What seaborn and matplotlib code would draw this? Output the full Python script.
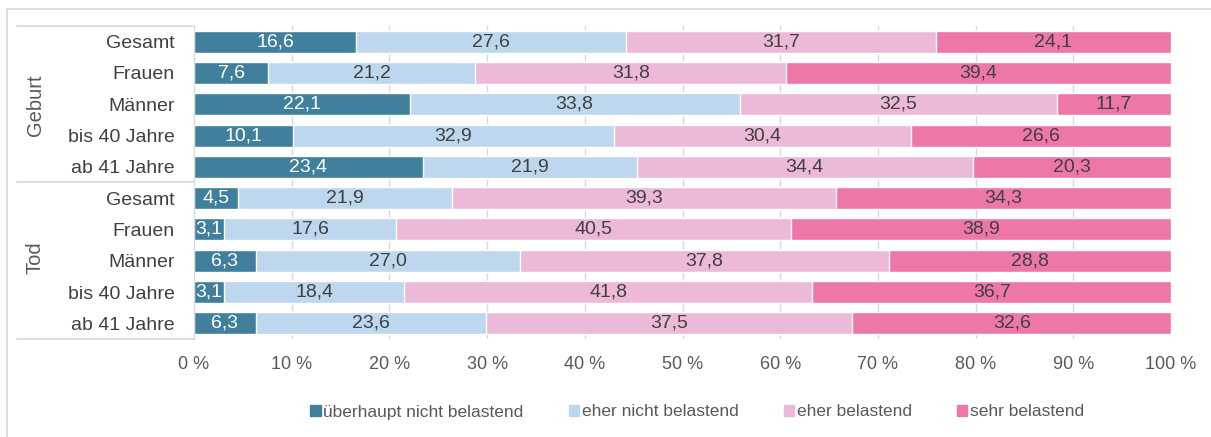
import pandas as pd
import matplotlib.pyplot as plt
import seaborn as sns
from matplotlib.patches import Patch
from matplotlib.lines import Line2D

# Data
groups = ["Geburt"] * 5 + ["Tod"] * 5
categories = ["Gesamt", "Frauen", "Männer", "bis 40 Jahre", "ab 41 Jahre"] * 2
series = ["überhaupt nicht belastend", "eher nicht belastend", "eher belastend", "sehr belastend"]
gar_nicht = [16.6, 7.6, 22.1, 10.1, 23.4, 4.5, 3.1, 6.3, 3.1, 6.3]
eher_nicht = [27.6, 21.2, 33.8, 32.9, 21.9, 21.9, 17.6, 27.0, 18.4, 23.6]
eher = [31.7, 31.8, 32.5, 30.4, 34.4, 39.3, 40.5, 37.8, 41.8, 37.5]
sehr = [24.1, 39.4, 11.7, 26.6, 20.3, 34.3, 38.9, 28.8, 36.7, 32.6]
ticks = [0, 10, 20, 30, 40, 50, 60, 70, 80, 90, 100]

colors = ["#41809C", "#BDD7EE", "#ECBAD8", "#EE77AA"]
text_colors = ["white", "#404040", "#404040", "#404040"]

df = pd.DataFrame({"group": groups, "cat": categories,
                   series[0]: gar_nicht, series[1]: eher_nicht,
                   series[2]: eher, series[3]: sehr})
df["row"] = df["group"] + "|" + df["cat"]
vals = df[series]
shares = vals.div(vals.sum(axis=1), axis=0) * 100
cum = shares.cumsum(axis=1)

sns.set_style("white")
plt.rcParams["font.family"] = ["Liberation Sans", "DejaVu Sans"]

fig = plt.figure(figsize=(12.11, 4.37), dpi=100)
ax = fig.add_axes([194 / 1211, 1 - 339 / 437, 977 / 1211, 313 / 437])

# draw cumulative bars back to front
for i in range(3, -1, -1):
    sns.barplot(x=cum[series[i]].values, y=df["row"], order=list(df["row"]),
                color=colors[i], orient="h", width=0.7, ax=ax,
                saturation=1, zorder=2)

# labels
for r in range(len(df)):
    for i, s in enumerate(series):
        left = cum[s].iloc[r] - shares[s].iloc[r]
        xc = left + shares[s].iloc[r] / 2
        ax.text(xc, r, f"{vals[s].iloc[r]:.1f}".replace(".", ","),
                ha="center", va="center", fontsize=14, color=text_colors[i], zorder=3)

ax.set_xlim(0, 100)
ax.set_ylim(9.5, -0.5)
ax.set_xticks(ticks)
ax.set_xticklabels([f"{t} %" for t in ticks])
ax.set_yticks(range(len(df)))
ax.set_yticklabels(categories)
ax.set_xlabel("")
ax.set_ylabel("")
ax.tick_params(axis="x", length=0, pad=12, labelsize=13, labelcolor="#595959")
ax.tick_params(axis="y", length=0, pad=14, labelsize=14, labelcolor="#404040")
ax.grid(axis="x", color="#D9D9D9", lw=1, zorder=0)
ax.set_axisbelow(True)
for side in ["top", "right", "bottom"]:
    ax.spines[side].set_visible(False)
ax.spines["left"].set_color("#D9D9D9")

# category box lines
tr = ax.get_yaxis_transform()
for yv in [-0.5, 4.5, 9.5]:
    ax.add_line(Line2D([-177 / 977, 0], [yv, yv], transform=tr, color="#D9D9D9",
                       lw=1.2, clip_on=False))

fig.text(35 / 1211, 1 - 105 / 437, "Geburt", rotation=90, ha="center", va="center",
         fontsize=14.5, color="#595959")
fig.text(35 / 1211, 1 - 258 / 437, "Tod", rotation=90, ha="center", va="center",
         fontsize=14.5, color="#595959")

# outer chart border
fig.add_artist(Line2D([7 / 1211, 7 / 1211], [0, 1 - 9 / 437], color="#D9D9D9", lw=1.2))
fig.add_artist(Line2D([7 / 1211, 1], [1 - 9 / 437, 1 - 9 / 437], color="#D9D9D9", lw=1.2))

handles = [Patch(color=c) for c in colors]
fig.legend(handles, series, loc="center", bbox_to_anchor=(697 / 1211, 1 - 412 / 437),
           ncol=4, frameon=False, handlelength=0.6, handleheight=0.6,
           handletextpad=0.15, columnspacing=2.6, fontsize=12.5,
           labelcolor="#595959")

plt.savefig("out.png", dpi=100)
